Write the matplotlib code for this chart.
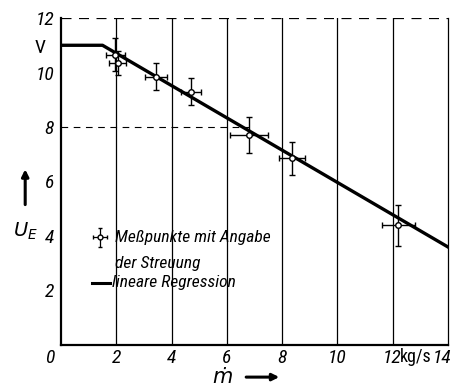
import matplotlib.pyplot as plt
from matplotlib import font_manager as fm
from matplotlib.transforms import ScaledTranslation

# measured points (mass flow kg/s, voltage V) with scatter
m_dot = [1.96, 2.05, 3.45, 4.7, 6.8, 8.35, 12.2]
u_e = [10.65, 10.35, 9.85, 9.3, 7.7, 6.85, 4.4]
m_err = [0.35, 0.3, 0.4, 0.35, 0.7, 0.47, 0.6]
u_err = [0.6, 0.45, 0.5, 0.5, 0.65, 0.6, 0.75]

# regression: constant plateau then linear drop
reg_x = [0, 1.5, 14]
reg_y = [11, 11, 3.6]

xticks = [0, 2, 4, 6, 8, 10, 12, 14]
yticks = [2, 4, 6, 8, 10, 12]

# pick a narrow face if one is installed
names = {f.name for f in fm.fontManager.ttflist}
narrow = [n for n in ['Liberation Sans Narrow', 'DejaVu Sans Condensed', 'Roboto Condensed',
                      'Open Sans Condensed'] if n in names]
plt.rcParams['font.family'] = narrow[:1] + ['DejaVu Sans']
fnt = dict(style='italic')

fig = plt.figure(figsize=(4.56, 3.92), dpi=100)
ax = fig.add_axes([0.134, 0.12, 0.848, 0.834])
ax.set_xlim(0, 14)
ax.set_ylim(0, 12)

# grid as in the print
for x in xticks[1:-1]:
    ax.axvline(x, color='black', lw=0.9, zorder=1)
ax.plot([0, 6.8], [8, 8], color='black', lw=0.8, ls=(0, (6, 5)), zorder=1)
ax.plot([0, 14], [12, 12], color='black', lw=0.9, ls=(0, (8, 6)), zorder=1)

ax.plot(reg_x, reg_y, color='black', lw=2.4, zorder=2)
ax.errorbar(m_dot, u_e, xerr=m_err, yerr=u_err, fmt='o', ms=4,
            mfc='white', mec='black', mew=1.0, ecolor='black',
            elinewidth=1.0, capsize=2, zorder=3)

for s in ['left', 'bottom']:
    ax.spines[s].set_linewidth(1.6)
ax.spines['right'].set_linewidth(0.9)
ax.spines['top'].set_visible(False)

ax.set_xticks(xticks)
ax.set_yticks(yticks)
ax.set_xticklabels([str(v) for v in xticks], fontsize=14, **fnt)
ax.set_yticklabels([str(v) for v in yticks], fontsize=14, **fnt)
ax.tick_params(axis='x', length=0, pad=3)
ax.tick_params(axis='y', length=0, pad=5)
xl = ax.get_xticklabels()
xl[0].set_transform(xl[0].get_transform() + ScaledTranslation(-0.11, 0, fig.dpi_scale_trans))
xl[-1].set_transform(xl[-1].get_transform() + ScaledTranslation(-0.06, 0, fig.dpi_scale_trans))

ax.text(-0.55, 10.9, 'V', fontsize=14, ha='right', va='center')
ax.text(12.85, -0.45, 'kg/s', fontsize=13, ha='center', va='center')
fig.text(0.055, 0.41, r'$U_E$', fontsize=14, ha='center', va='center', style='italic')
ax.annotate('', xy=(-1.3, 6.55), xytext=(-1.3, 5.05), annotation_clip=False,
            arrowprops=dict(arrowstyle='-|>', color='black', lw=2.2))
ax.text(5.85, -1.18, '\u1e41', fontsize=15, ha='center', va='center',
        family=['DejaVu Sans'], style='italic')
ax.annotate('', xy=(8.0, -1.18), xytext=(6.6, -1.18), annotation_clip=False,
            arrowprops=dict(arrowstyle='-|>', color='black', lw=2.2))

# legend drawn by hand
ax.errorbar([1.4], [3.96], xerr=[0.25], yerr=[0.35], fmt='o', ms=3.5,
            mfc='white', mec='black', ecolor='black', elinewidth=0.9, capsize=1.5)
ax.text(1.95, 3.96, 'Meßpunkte mit Angabe', fontsize=12.6, va='center', **fnt)
ax.text(1.95, 3.0, 'der Streuung', fontsize=12.6, va='center', **fnt)
ax.plot([1.12, 1.78], [2.28, 2.28], color='black', lw=2.2)
ax.text(1.85, 2.28, 'lineare Regression', fontsize=12.6, va='center', **fnt)

fig.savefig('out.png', dpi=100)
